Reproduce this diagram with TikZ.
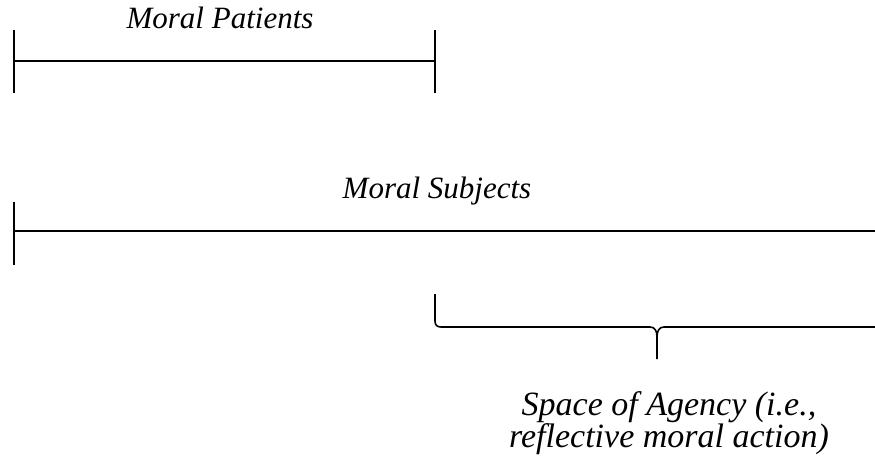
\documentclass[tikz,border=0pt]{standalone}
\usepackage{fontspec}
\setmainfont{Liberation Serif}
\begin{document}
\begin{tikzpicture}[x=1pt,y=-1pt,
  bar/.style={line width=1.6pt, line cap=butt},
  lbl/.style={font=\fontsize{31}{32}\selectfont\itshape, inner sep=0pt, anchor=base, align=center},
  biglbl/.style={font=\fontsize{34}{32}\selectfont\itshape, inner sep=0pt, anchor=base, align=center}]
\useasboundingbox (0,0) rectangle (875,469);
% Moral Patients
\coordinate (pL) at (14,61);
\coordinate (pR) at (435,61);
\draw[bar] (14,30) -- (14,93);
\draw[bar] (435,30) -- (435,93);
\draw[bar] (pL) -- (pR);
\node[lbl] (patients) at (220,28) {Moral Patients};
% Moral Subjects
\coordinate (sL) at (14,231);
\coordinate (sR) at (875,231);
\draw[bar] (14,202) -- (14,265);
\draw[bar] (sL) -- (sR);
\node[lbl] (subjects) at (437,198) {Moral Subjects};
% Brace
\coordinate (bTop) at (435,294);
\coordinate (bTip) at (657,359);
\coordinate (bEnd) at (875,327);
\draw[line width=1.6pt, line join=round] (bTop) -- (435,321) .. controls (435,325) and (437,327) .. (441,327)
  -- (650,327) .. controls (655,327) and (657,331) .. (657,337) -- (bTip);
\draw[line width=1.6pt, line join=round] (657,337) .. controls (657,331) and (659,327) .. (664,327) -- (bEnd);
\node[biglbl] (agency) at (669,447) {Space of Agency (i.e.,\\reflective moral action)};
\end{tikzpicture}
\end{document}
